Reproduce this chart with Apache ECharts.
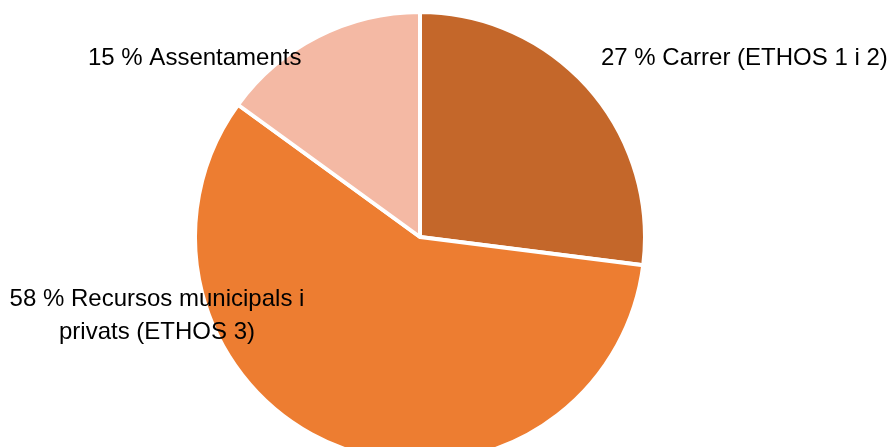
<!DOCTYPE html>
<html>
<head>
<meta charset="utf-8">
<script src="https://cdn.jsdelivr.net/npm/echarts@6/dist/echarts.min.js"></script>
<style>
  html, body { margin: 0; padding: 0; background: #fff; }
  #chart { width: 890px; height: 447px; }
</style>
</head>
<body>
<div id="chart"></div>
<script>
// Share of people by type of housing situation (percent)
const categories = ['Carrer (ETHOS 1 i 2)', 'Recursos municipals i\nprivats (ETHOS 3)', 'Assentaments'];
const values = [27, 58, 15];
const colors = ['#C4672A', '#ED7D31', '#F4B9A4'];

// Where each label sits: [x, y, align]
const labelSpots = [
  [601, 58, 'left'],
  [157, 316, 'center'],
  [88, 58, 'left']
];

const chart = echarts.init(document.getElementById('chart'), null, { renderer: 'canvas' });

chart.setOption({
  animation: false,
  series: [{
    type: 'pie',
    center: [420, 237],
    radius: 225,
    startAngle: 90,
    clockwise: true,
    itemStyle: { borderColor: '#ffffff', borderWidth: 4 },
    label: {
      show: true,
      position: 'outside',
      formatter: p => p.value + ' % ' + p.name,
      fontFamily: '"Liberation Sans", Arial, sans-serif',
      fontSize: 24,
      lineHeight: 33,
      color: '#000000',
      overflow: 'none',
      width: 400
    },
    labelLine: { show: false },
    labelLayout: p => {
      const s = labelSpots[p.dataIndex];
      return { x: s[0], y: s[1], align: s[2], verticalAlign: 'middle', hideOverlap: false };
    },
    emphasis: { disabled: true },
    data: categories.map((name, i) => ({
      name: name,
      value: values[i],
      itemStyle: { color: colors[i] },
      label: { align: labelSpots[i][2] }
    }))
  }]
});
</script>
</body>
</html>
